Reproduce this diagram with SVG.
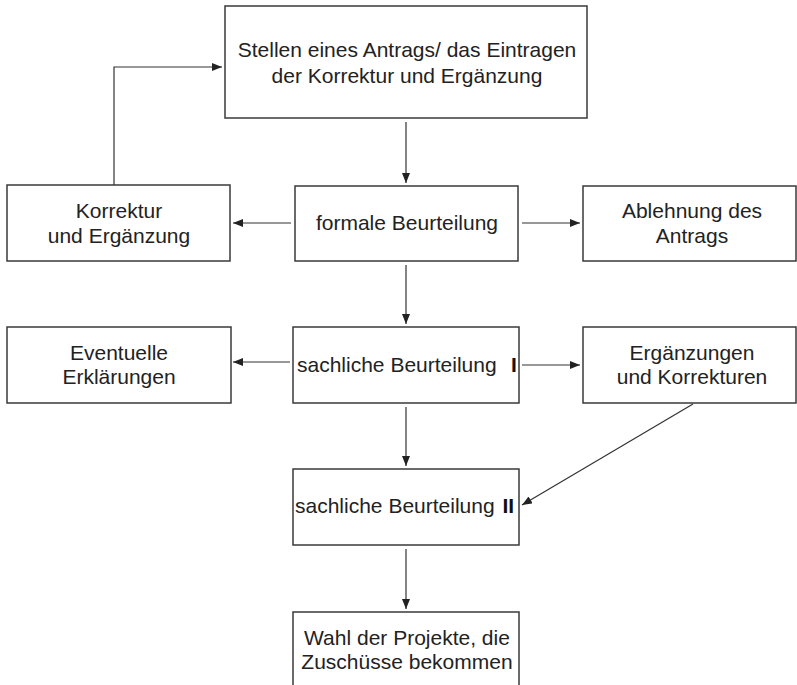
<svg xmlns="http://www.w3.org/2000/svg" width="797" height="685" viewBox="0 0 797 685">
<style>
.box{fill:#fff;stroke:#3a3a3a;stroke-width:1.5}
.t{font-family:"Liberation Sans",Arial,sans-serif;font-size:21px;fill:#222;text-anchor:middle}
.ts{font-family:"Liberation Sans",Arial,sans-serif;font-size:21px;fill:#222}
.b{font-weight:bold;fill:#111}
.c{fill:none;stroke:#333;stroke-width:1.2}
</style>
<defs>
<marker id="ah" viewBox="0 0 10 8" refX="10" refY="4" markerWidth="10" markerHeight="8" markerUnits="userSpaceOnUse" orient="auto">
<path d="M0,0 L10,4 L0,8 Z" fill="#222"/>
</marker>
</defs>
<rect width="797" height="685" fill="#fff"/>
<g id="connectors">
<path class="c" d="M114,185 V67 H222" marker-end="url(#ah)"/>
<path class="c" d="M406,122 V183" marker-end="url(#ah)"/>
<path class="c" d="M291,223 H233" marker-end="url(#ah)"/>
<path class="c" d="M522,223 H580" marker-end="url(#ah)"/>
<path class="c" d="M406,265 V324" marker-end="url(#ah)"/>
<path class="c" d="M290,362 H233" marker-end="url(#ah)"/>
<path class="c" d="M522,365 H580" marker-end="url(#ah)"/>
<path class="c" d="M406,407 V466" marker-end="url(#ah)"/>
<path class="c" d="M693,404 L522,505" marker-end="url(#ah)"/>
<path class="c" d="M406,549 V609" marker-end="url(#ah)"/>
</g>
<g id="n1">
<rect class="box" x="225" y="6" width="362" height="112"/>
<text class="t" x="407" y="57">Stellen eines Antrags/ das Eintragen</text>
<text class="t" x="407" y="83">der Korrektur und Ergänzung</text>
</g>
<g id="n2">
<rect class="box" x="7" y="185" width="223" height="76"/>
<text class="t" x="119" y="218">Korrektur</text>
<text class="t" x="119" y="243">und Ergänzung</text>
</g>
<g id="n3">
<rect class="box" x="295" y="186" width="223" height="75"/>
<text class="t" x="407" y="230">formale Beurteilung</text>
</g>
<g id="n4">
<rect class="box" x="583" y="186" width="213" height="75"/>
<text class="t" x="692" y="218">Ablehnung des</text>
<text class="t" x="692" y="243">Antrags</text>
</g>
<g id="n5">
<rect class="box" x="7" y="327" width="224" height="76"/>
<text class="t" x="119" y="360">Eventuelle</text>
<text class="t" x="119" y="384">Erklärungen</text>
</g>
<g id="n6">
<rect class="box" x="293" y="327" width="226" height="76"/>
<text class="ts" x="297" y="372">sachliche Beurteilung</text>
<text class="ts b" x="511" y="372">I</text>
</g>
<g id="n7">
<rect class="box" x="583" y="327" width="213" height="76"/>
<text class="t" x="692" y="360">Ergänzungen</text>
<text class="t" x="692" y="384">und Korrekturen</text>
</g>
<g id="n8">
<rect class="box" x="293" y="469" width="226" height="76"/>
<text class="ts" x="295" y="513">sachliche Beurteilung</text>
<text class="ts b" x="502.5" y="513">II</text>
</g>
<g id="n9">
<path class="box" d="M293,690 V612 H519 V690"/>
<text class="t" x="407" y="645">Wahl der Projekte, die</text>
<text class="t" x="407" y="669">Zuschüsse bekommen</text>
</g>
</svg>
